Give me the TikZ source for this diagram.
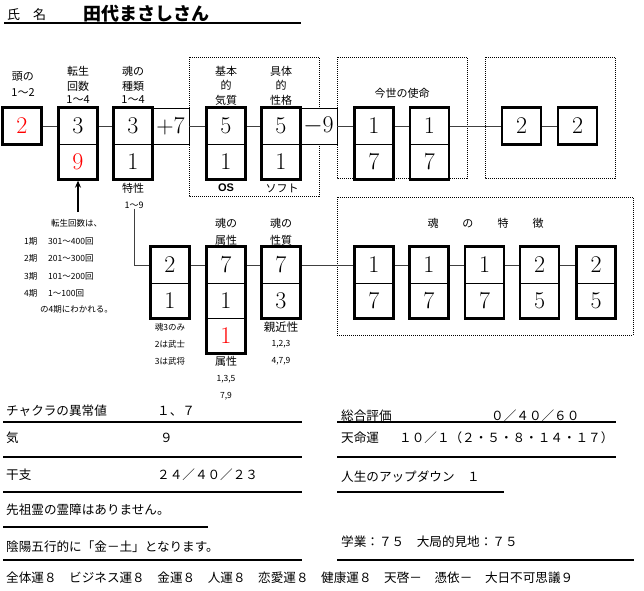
\documentclass[tikz,border=0pt]{standalone}
\usepackage{fontspec}
\newfontfamily\cjk{Noto Sans CJK JP}
\newfontfamily\osfont{Liberation Sans}
\usetikzlibrary{fit,arrows.meta}
\tikzset{
 cell/.style={draw, line width=0.8pt, fill=white, minimum width=38pt, inner sep=0pt, font=\fontsize{24}{24}\selectfont},
 topc/.style={cell, minimum height=36pt},
 botc/.style={cell, minimum height=35pt},
 frame/.style={draw, line width=2.5pt, inner sep=0pt},
 conn/.style={draw=black!75, line width=1pt},
 dotbox/.style={draw, line width=0.8pt, dash pattern=on 1pt off 1pt},
 lab/.style={font=\cjk\fontsize{11}{11}\selectfont, inner sep=0pt},
 small/.style={font=\cjk\fontsize{8.5}{8.5}\selectfont, inner sep=0pt},
 bt/.style={font=\cjk\fontsize{12.6}{12.6}\selectfont, inner sep=0pt, anchor=west},
 rule/.style={line width=1.2pt},
}
\begin{document}
\begin{tikzpicture}[x=1pt,y=-1pt]
\useasboundingbox (0,0) rectangle (644,590);
% dotted groups
\draw[dotbox] (189,57) rectangle (319,196);
\draw[dotbox] (337,57) rectangle (467,178);
\draw[dotbox] (485,57) rectangle (615,178);
\draw[dotbox] (337,197) rectangle (633,335);
% title
\node[font=\cjk\fontsize{13}{13}\selectfont, anchor=west, inner sep=0pt] (shimei) at (7,15) {氏　名};
\node[font=\cjk\bfseries\fontsize{18}{18}\selectfont, anchor=west, inner sep=0pt] (name) at (83,14) {田代まさしさん};
\draw[rule] (4,23) -- (301,23);
% top labels
\node[lab] (l1a) at (23,77) {頭の};
\node[lab] (l1b) at (23,93) {1～2};
\node[lab] (l2a) at (78,71) {転生};
\node[lab] (l2b) at (78,86) {回数};
\node[lab] (l2c) at (78,100) {1～4};
\node[lab] (l3a) at (133,71) {魂の};
\node[lab] (l3b) at (133,86) {種類};
\node[lab] (l3c) at (133,100) {1～4};
\node[lab] (l4a) at (226,71) {基本};
\node[lab] (l4b) at (226,85) {的};
\node[lab] (l4c) at (226,100) {気質};
\node[lab] (l5a) at (281,71) {具体};
\node[lab] (l5b) at (281,85) {的};
\node[lab] (l5c) at (281,100) {性格};
\node[lab] (l6) at (402,93) {今世の使命};
% top row cells
\node[topc, text=red] (h) at (22,126) {2};
\node[topc] (t1) at (78,126) {3};
\node[botc, text=red] (t2) at (78,161.5) {9};
\node[topc] (s1) at (133,126) {3};
\node[botc] (s2) at (133,161.5) {1};
\node[topc, minimum width=37pt] (p7) at (170.5,126) {+7};
\node[topc] (k1) at (226,126) {5};
\node[botc] (k2) at (226,161.5) {1};
\node[topc] (g1) at (281,126) {5};
\node[botc] (g2) at (281,161.5) {1};
\node[topc, minimum width=37pt] (m9) at (318.5,126) {$-$9};
\node[topc] (u1) at (374,126) {1};
\node[botc] (u2) at (374,161.5) {7};
\node[topc] (v1) at (429.5,126) {1};
\node[botc] (v2) at (429.5,161.5) {7};
\node[topc] (w1) at (521.5,126) {2};
\node[topc] (x1) at (577.5,126) {2};
% top connectors
\draw[conn] (h.east) -- (t1.west);
\draw[conn] (t1.east) -- (s1.west);
\draw[conn] (p7.east) -- (k1.west);
\draw[conn] (k1.east) -- (g1.west);
\draw[conn] (m9.east) -- (u1.west);
\draw[conn] (u1.east) -- (v1.west);
\draw[conn] (v1.east) -- (w1.west);
\draw[conn] (w1.east) -- (x1.west);
% frames
\node[frame, fit=(h)] (H) {};
\node[frame, fit=(t1)(t2)] (T) {};
\node[frame, fit=(s1)(s2)] (S) {};
\node[frame, fit=(k1)(k2)] (K) {};
\node[frame, fit=(g1)(g2)] (G) {};
\node[frame, fit=(u1)(u2)] (U) {};
\node[frame, fit=(v1)(v2)] (V) {};
\node[frame, fit=(w1)] (W) {};
\node[frame, fit=(x1)] (X) {};
% under top row
\node[lab] (tok) at (133,188) {特性};
\node[small, font=\cjk\fontsize{9}{9}\selectfont] (tok19) at (134,205) {1～9};
\node[font=\osfont\bfseries\fontsize{11}{11}\selectfont, inner sep=0pt] (os) at (226,188) {OS};
\node[lab] (soft) at (282,188) {ソフト};
% arrow
\coordinate (arr) at (78,212);
\draw[-{Stealth[length=7pt,width=6pt]}, line width=2pt] (arr) -- (T.south);
% explanation
\node[small, anchor=west] (n0) at (51,223) {転生回数は、};
\node[small, anchor=west] (n1) at (24,241) {\makebox[24pt][l]{1期}301～400回};
\node[small, anchor=west] (n2) at (24,258) {\makebox[24pt][l]{2期}201～300回};
\node[small, anchor=west] (n3) at (24,276) {\makebox[24pt][l]{3期}101～200回};
\node[small, anchor=west] (n4) at (24,293) {\makebox[24pt][l]{4期}1～100回};
\node[small, anchor=west] (n5) at (40,309) {の4期にわかれる。};
% lower labels
\node[lab] (q1a) at (226,223) {魂の};
\node[lab] (q1b) at (226,240) {属性};
\node[lab] (q2a) at (281,223) {魂の};
\node[lab] (q2b) at (281,240) {性質};
\node[font=\cjk\fontsize{11}{11}\selectfont, inner sep=0pt] (toku) at (485.5,223) {魂\hspace{24pt}の\hspace{24pt}特\hspace{24pt}徴};
% lower cells
\node[topc] (a1) at (170,265) {2};
\node[botc] (a2) at (170,300.5) {1};
\node[topc] (b1) at (226,265) {7};
\node[botc] (b2) at (226,300.5) {1};
\node[botc, text=red] (b3) at (226,335.5) {1};
\node[topc] (c1) at (281,265) {7};
\node[botc] (c2) at (281,300.5) {3};
\node[topc] (d1) at (374,265) {1};
\node[botc] (d2) at (374,300.5) {7};
\node[topc] (e1) at (429,265) {1};
\node[botc] (e2) at (429,300.5) {7};
\node[topc] (f1) at (484.5,265) {1};
\node[botc] (f2) at (484.5,300.5) {7};
\node[topc] (g3) at (539.5,265) {2};
\node[botc] (g4) at (539.5,300.5) {5};
\node[topc] (i1) at (596,265) {2};
\node[botc] (i2) at (596,300.5) {5};
% lower connectors
\draw[conn] (tok19.south) |- (a1.west);
\draw[conn] (a1.east) -- (b1.west);
\draw[conn] (b1.east) -- (c1.west);
\draw[conn] (c1.east) -- (d1.west);
\draw[conn] (d1.east) -- (e1.west);
\draw[conn] (e1.east) -- (f1.west);
\draw[conn] (f1.east) -- (g3.west);
\draw[conn] (g3.east) -- (i1.west);
% lower frames
\node[frame, fit=(a1)(a2)] (A) {};
\node[frame, fit=(b1)(b3)] (B) {};
\node[frame, fit=(c1)(c2)] (C) {};
\node[frame, fit=(d1)(d2)] (D) {};
\node[frame, fit=(e1)(e2)] (E) {};
\node[frame, fit=(f1)(f2)] (F) {};
\node[frame, fit=(g3)(g4)] (GG) {};
\node[frame, fit=(i1)(i2)] (I) {};
% lower notes
\node[small] (r1) at (170,327) {魂3のみ};
\node[small] (r2) at (170,344) {2は武士};
\node[small] (r3) at (170,361) {3は武将};
\node[lab] (r4) at (226,361) {属性};
\node[small] (r5) at (226,379) {1,3,5};
\node[small] (r6) at (226,396) {7,9};
\node[lab, font=\cjk\fontsize{11.5}{11.5}\selectfont] (r7) at (281,327) {親近性};
\node[small] (r8) at (281,344) {1,2,3};
\node[small] (r9) at (281,361) {4,7,9};
% bottom section left
\node[bt] (z1) at (6,411) {チャクラの異常値};
\node[bt] (z1v) at (157,411) {１、７};
\draw[rule] (3,422) -- (302,422);
\node[bt] (z2) at (6,438) {気};
\node[bt] (z2v) at (160,438) {９};
\draw[rule] (3,457) -- (302,457);
\node[bt] (z3) at (6,475) {干支};
\node[bt] (z3v) at (157,475) {２４／４０／２３};
\draw[rule] (3,492) -- (302,492);
\node[bt] (z4) at (6,510) {先祖霊の霊障はありません。};
\draw[rule] (3,527) -- (208,527);
\node[bt] (z5) at (6,547) {陰陽五行的に「金－土」となります。};
\draw[rule] (3,560) -- (302,560);
\node[bt] (z6) at (6,578) {全体運８　ビジネス運８　金運８　人運８　恋愛運８　健康運８　天啓－　憑依－　大日不可思議９};
% bottom section right
\node[bt] (y1) at (341,416) {総合評価};
\node[bt] (y1v) at (491,416) {０／４０／６０};
\draw[rule] (337,422) -- (616,422);
\node[bt] (y2) at (341,438) {天命運};
\node[bt] (y2v) at (399,438) {１０／１（２・５・８・１４・１７）};
\draw[rule] (337,457) -- (616,457);
\node[bt] (y3) at (341,477) {人生のアップダウン　１};
\draw[rule] (337,492) -- (504,492);
\node[bt] (y4) at (341,542) {学業：７５　大局的見地：７５};
\draw[rule] (337,560) -- (634,560);
\end{tikzpicture}
\end{document}
